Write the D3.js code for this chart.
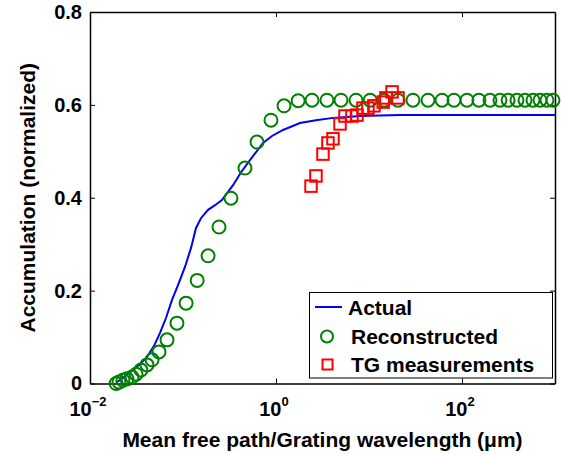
<!DOCTYPE html>
<html>
<head>
<meta charset="utf-8">
<script src="https://cdn.jsdelivr.net/npm/d3@7"></script>
<style>
  body { margin: 0; background: #fff; }
  text { font-family: "Liberation Sans", Arial, sans-serif; font-weight: bold; fill: #000; }
</style>
</head>
<body>
<script>
// data
var actualX = [0.019, 0.0238, 0.029, 0.0345, 0.041, 0.0488, 0.0566, 0.0656, 0.0762, 0.0884, 0.105, 0.122, 0.138,
    0.156, 0.186, 0.221, 0.262, 0.345, 0.421, 0.525, 0.725, 0.906, 1.19, 1.81, 2.69, 4.1, 8.0, 21.5, 1000]
var actualY = [0.001, 0.016, 0.029, 0.042, 0.057, 0.081, 0.109, 0.141, 0.180, 0.212, 0.251, 0.292, 0.335,
    0.356, 0.374, 0.384, 0.395, 0.427, 0.455, 0.481, 0.518, 0.533, 0.546, 0.561, 0.567, 0.572, 0.576, 0.578, 0.578]

var recX = [0.0191, 0.0205, 0.0226, 0.025, 0.0283, 0.0313, 0.0353, 0.041, 0.0465, 0.0552, 0.0673, 0.0861, 0.108,
    0.142, 0.186, 0.244, 0.328, 0.464, 0.625, 0.883, 1.22, 1.73, 2.44, 3.53, 5.0, 7.25, 10.3, 14.5, 20.5, 29.7,
    43.1, 61, 82, 113, 152, 200, 256, 313, 390, 476, 580, 690, 820, 951]
var recY = [0, 0.003, 0.007, 0.010, 0.014, 0.020, 0.029, 0.040, 0.051, 0.068, 0.094, 0.130, 0.173,
    0.222, 0.275, 0.337, 0.399, 0.464, 0.520, 0.567, 0.598, 0.609, 0.610, 0.610, 0.610, 0.610, 0.610, 0.610, 0.610, 0.610,
    0.610, 0.610, 0.610, 0.610, 0.610, 0.610, 0.610, 0.610, 0.610, 0.610, 0.610, 0.610, 0.610, 0.610]

var tgX = [2.38, 2.69, 3.20, 3.62, 4.10, 4.88, 5.52, 6.56, 7.43, 8.61, 9.75, 11.3, 14.2, 15.2, 17.7, 20.5]
var tgY = [0.425, 0.447, 0.494, 0.518, 0.527, 0.559, 0.576, 0.576, 0.578, 0.593, 0.593, 0.598, 0.606, 0.615, 0.628, 0.615]

var yTicks = [0, 0.2, 0.4, 0.6, 0.8]
var xTicks = [0.01, 1, 100]
var xTickExp = ['\u22122', '0', '2']
var legendLabels = ['Actual', 'Reconstructed', 'TG measurements']

var width = 561, height = 456
// plot box (window.top is reserved, so use a margin object)
var box = { left: 90, right: 555, top: 12, bottom: 383.5 }

var x = d3.scaleLog().domain([0.01, 1000]).range([box.left, box.right])
var y = d3.scaleLinear().domain([0, 0.8]).range([box.bottom, box.top])

var svg = d3.select('body').append('svg')
    .attr('width', width)
    .attr('height', height)

// axes, ticks pointing inward like matlab
function styleAxis(g) {
    g.attr('font-family', null).attr('font-size', null)
    g.selectAll('path.domain').attr('stroke', '#000').attr('stroke-width', 1.5)
    g.selectAll('.tick line').attr('stroke', '#000').attr('stroke-width', 1)
    g.selectAll('.tick text').style('font-size', '20px')
}

svg.append('g')
    .attr('transform', 'translate(' + box.left + ',0)')
    .call(d3.axisLeft(y).tickValues(yTicks).tickSize(-5).tickSizeOuter(0).tickPadding(8)
        .tickFormat(d => d === 0 ? '0' : d.toFixed(1)))
    .call(styleAxis)

svg.append('g')
    .attr('transform', 'translate(' + box.right + ',0)')
    .call(d3.axisRight(y).tickValues(yTicks).tickSize(-5).tickSizeOuter(0).tickFormat(''))
    .call(styleAxis)

svg.append('g')
    .attr('transform', 'translate(0,' + box.top + ')')
    .call(d3.axisTop(x).tickValues(xTicks).tickSize(-5).tickSizeOuter(0).tickFormat(''))
    .call(styleAxis)

svg.append('g')
    .attr('transform', 'translate(0,' + box.bottom + ')')
    .call(d3.axisBottom(x).tickValues(xTicks).tickSize(-5).tickSizeOuter(0).tickFormat(''))
    .call(styleAxis)

// power-of-ten labels
xTicks.forEach((t, i) => {
    var lab = svg.append('text')
        .attr('x', x(t) - 2)
        .attr('y', 415.5)
        .attr('text-anchor', 'middle')
        .style('font-size', '20px')
    lab.append('tspan').text('10')
    lab.append('tspan').attr('dy', -10).style('font-size', '13px').text(xTickExp[i])
})

// axis titles
svg.append('text')
    .attr('x', (box.left + box.right) / 2)
    .attr('y', 447)
    .attr('text-anchor', 'middle')
    .style('font-size', '21px')
    .text('Mean free path/Grating wavelength (\u03bcm)')

svg.append('text')
    .attr('transform', 'translate(35,' + (box.top + box.bottom) / 2 + ') rotate(-90)')
    .attr('text-anchor', 'middle')
    .style('font-size', '21px')
    .text('Accumulation (normalized)')

// actual curve
var line = d3.line()
    .x(d => x(d[0]))
    .y(d => y(d[1]))

svg.append('path')
    .datum(d3.zip(actualX, actualY))
    .attr('fill', 'none')
    .attr('stroke', '#0000ff')
    .attr('stroke-width', 2)
    .attr('d', line)

// reconstructed
svg.append('g').selectAll('circle')
    .data(d3.zip(recX, recY))
    .enter().append('circle')
    .attr('cx', d => x(d[0]))
    .attr('cy', d => y(d[1]))
    .attr('r', 6.5)
    .attr('fill', 'none')
    .attr('stroke', '#008000')
    .attr('stroke-width', 2)

// TG measurements
var sq = 11.5
svg.append('g').selectAll('rect')
    .data(d3.zip(tgX, tgY))
    .enter().append('rect')
    .attr('x', d => x(d[0]) - sq / 2)
    .attr('y', d => y(d[1]) - sq / 2)
    .attr('width', sq)
    .attr('height', sq)
    .attr('fill', 'none')
    .attr('stroke', '#ff0000')
    .attr('stroke-width', 2)

// legend
var lg = svg.append('g')
lg.append('rect')
    .attr('x', 309.5).attr('y', 292.5)
    .attr('width', 243).attr('height', 85.5)
    .attr('fill', '#fff')
    .attr('stroke', '#000')
    .attr('stroke-width', 1)

var rowY = [307, 336.5, 364.5]
lg.append('line')
    .attr('x1', 315).attr('x2', 342)
    .attr('y1', rowY[0]).attr('y2', rowY[0])
    .attr('stroke', '#0000ff').attr('stroke-width', 2)
lg.append('circle')
    .attr('cx', 327).attr('cy', rowY[1]).attr('r', 6)
    .attr('fill', 'none').attr('stroke', '#008000').attr('stroke-width', 2)
lg.append('rect')
    .attr('x', 327.5 - 5).attr('y', rowY[2] - 5)
    .attr('width', 10).attr('height', 10)
    .attr('fill', 'none').attr('stroke', '#ff0000').attr('stroke-width', 2)

legendLabels.forEach((s, i) => {
    lg.append('text')
        .attr('x', i === 0 ? 348 : 351)
        .attr('y', rowY[i])
        .attr('dy', '0.36em')
        .style('font-size', '21px')
        .text(s)
})
</script>
</body>
</html>
